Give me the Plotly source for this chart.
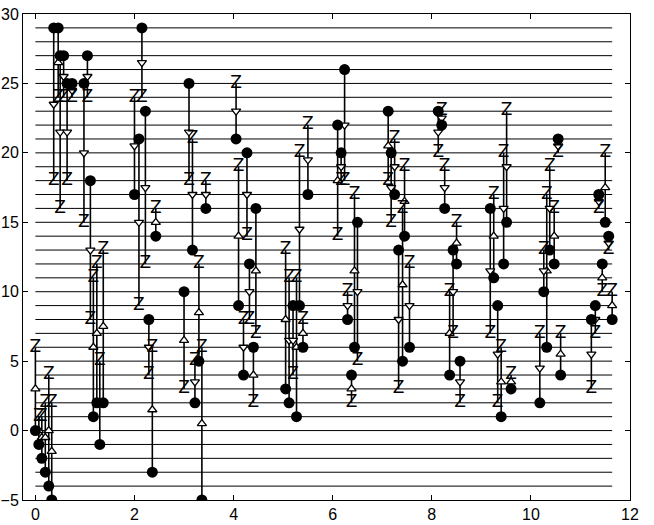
import plotly.graph_objects as go

# horizontal reference levels
levels = list(range(-4, 30))
level_x = [0.0, 11.64]

# segment x positions (grouped by cluster)
seg_x = [
    0.00, 0.07, 0.13, 0.20, 0.27, 0.33,
    0.37, 0.46, 0.50, 0.57, 0.64, 0.74,
    0.98, 1.05, 1.11,
    1.17, 1.24, 1.30, 1.37,
    2.00, 2.09, 2.15, 2.22, 2.29, 2.36, 2.43,
    3.00, 3.10, 3.17, 3.22, 3.30, 3.36, 3.44,
    4.05, 4.10, 4.20, 4.27, 4.32, 4.40, 4.45,
    5.05, 5.12, 5.20, 5.27, 5.33, 5.40, 5.50,
    6.10, 6.17, 6.24, 6.30, 6.38, 6.44, 6.50,
    7.12, 7.18, 7.25, 7.33, 7.41, 7.45, 7.55,
    8.13, 8.20, 8.26, 8.36, 8.43, 8.50, 8.57,
    9.18, 9.25, 9.33, 9.40, 9.45, 9.51, 9.60,
    10.18, 10.26, 10.32, 10.38, 10.47, 10.55, 10.60,
    11.22, 11.30, 11.37, 11.44, 11.50, 11.57, 11.64,
]

# value at the filled circle
y_dot = [
    0, -1, -2, -3, -4, -5,
    29, 29, 27, 27, 25, 25,
    25, 27, 18,
    1, 2, -1, 2,
    17, 21, 29, 23, 8, -3, 14,
    10, 25, 13, 2, 5, -5, 16,
    21, 9, 4, 20, 12, 6, 16,
    3, 2, 9, 1, 9, 6, 17,
    22, 20, 26, 8, 4, 6, 15,
    23, 20, 17, 13, 5, 14, 6,
    23, 22, 16, 4, 13, 12, 5,
    16, 11, 9, 1, 12, 15, 3,
    2, 10, 6, 13, 12, 21, 4,
    8, 9, 17, 12, 15, 14, 8,
]

# value at the Z mark
y_z = [
    6, 1, 1, 2, 4, 2,
    18, 24, 16, 24, 18, 24,
    15, 24, 8,
    11, 12, 5, 13,
    24, 9, 24, 12, 4, 6, 16,
    3, 18, 21, 5, 12, 6, 18,
    25, 19, 8, 14, 8, 2, 7,
    13, 11, 4, 11, 20, 8, 22,
    14, 18, 18, 10, 2, 17, 5,
    18, 15, 21, 3, 16, 19, 12,
    20, 23, 19, 10, 7, 15, 2,
    7, 17, 2, 6, 20, 23, 4,
    7, 13, 17, 19, 16, 20, 7,
    3, 7, 16, 10, 20, 13, 10,
]

# direction of the midpoint triangle (u = up, d = down), per cluster
tri_dir = "".join([
    "uuuuuu", "dudddd", "ddd", "uuuu",
    "ddddduu", "uddduud", "duddduu", "uddudud",
    "uddduud", "uddduud", "dddudud", "dududdu",
    "ddududu", "ddduudu",
])


def build_figure() -> go.Figure:
    fig = go.Figure()

    # horizontal levels
    hx, hy = [], []
    for lv in levels:
        hx += [level_x[0], level_x[1], None]
        hy += [lv, lv, None]
    fig.add_trace(go.Scatter(x=hx, y=hy, mode="lines",
                             line=dict(color="black", width=1), hoverinfo="skip"))

    # vertical segments
    sx, sy = [], []
    for x, a, b in zip(seg_x, y_dot, y_z):
        sx += [x, x, None]
        sy += [a, b, None]
    fig.add_trace(go.Scatter(x=sx, y=sy, mode="lines",
                             line=dict(color="black", width=1.6)))

    # midpoint triangles
    mid = [(a + b) / 2 for a, b in zip(y_dot, y_z)]
    for d, sym in (("u", "triangle-up"), ("d", "triangle-down")):
        idx = [i for i, c in enumerate(tri_dir) if c == d]
        fig.add_trace(go.Scatter(
            x=[seg_x[i] for i in idx], y=[mid[i] for i in idx], mode="markers",
            marker=dict(symbol=sym, size=8, color="white",
                        line=dict(color="black", width=1.3))))

    # Z marks
    fig.add_trace(go.Scatter(
        x=seg_x, y=y_z, mode="text", text=["Z"] * len(seg_x),
        textposition="middle center",
        textfont=dict(family="DejaVu Sans", size=17, color="black")))

    # filled circles
    fig.add_trace(go.Scatter(
        x=seg_x, y=y_dot, mode="markers",
        marker=dict(symbol="circle", size=11, color="black")))

    axis = dict(showgrid=False, zeroline=False, showline=True, linecolor="black",
                linewidth=1, mirror="ticks", ticks="inside", ticklen=5,
                tickcolor="black", automargin=False,
                tickfont=dict(family="Liberation Sans", size=16, color="black"))
    fig.update_xaxes(range=[-0.25, 12], tickvals=[0, 2, 4, 6, 8, 10, 12], **axis)
    fig.update_yaxes(range=[-5, 30], tickvals=[-5, 0, 5, 10, 15, 20, 25, 30], **axis)

    fig.update_layout(
        width=654, height=525,
        margin=dict(l=23, r=24, t=14, b=25),
        plot_bgcolor="white", paper_bgcolor="white",
        showlegend=False,
    )
    return fig


fig = build_figure()
# drop the browser's default body margin so the figure fills the window
fig.write_html("out.html", config={"displayModeBar": False},
               post_script="document.body.style.margin = '0px';")
